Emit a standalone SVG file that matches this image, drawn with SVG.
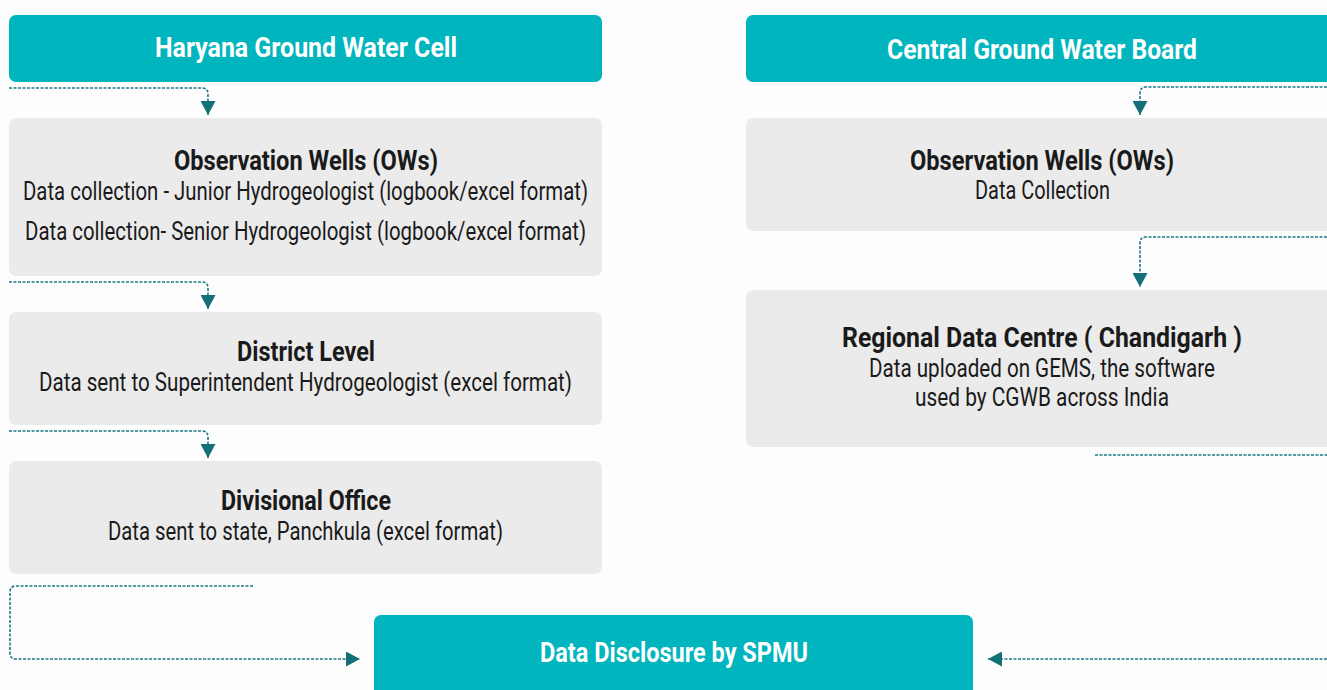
<svg xmlns="http://www.w3.org/2000/svg" width="1327" height="690" viewBox="0 0 1327 690">
<defs>
<style>
.hdr{fill:#00B5BD}
.box{fill:#EBEBEB}
.t{font-family:Roboto,"Liberation Sans",sans-serif;text-anchor:middle;fill:#1a1a1a}
.b{font-weight:bold;font-size:27px}
.r{font-size:25px}
.w{fill:#ffffff;font-weight:bold;font-size:27px}
.c{fill:none;stroke:#1d7a84;stroke-width:1.6;stroke-dasharray:3 1.5}
</style>
<marker id="ah" viewBox="0 0 10 10" refX="10" refY="5" markerWidth="14" markerHeight="15" markerUnits="userSpaceOnUse" orient="auto" preserveAspectRatio="none">
<path d="M0,0 L10,5 L0,10 Z" fill="#137078"/>
</marker>
</defs>
<rect width="1327" height="690" fill="#fdfdfd"/>

<g id="hgwc">
<rect class="hdr" x="9" y="15" width="593" height="67" rx="7"/>
<text class="t w" x="306" y="57" textLength="302" lengthAdjust="spacingAndGlyphs">Haryana Ground Water Cell</text>
</g>
<g id="ow-left">
<rect class="box" x="9" y="118" width="593" height="158" rx="7"/>
<text class="t b" x="306" y="170" textLength="264" lengthAdjust="spacingAndGlyphs">Observation Wells (OWs)</text>
<text class="t r" x="305.5" y="200" textLength="565" lengthAdjust="spacingAndGlyphs">Data collection - Junior Hydrogeologist (logbook/excel format)</text>
<text class="t r" x="305.5" y="240" textLength="561" lengthAdjust="spacingAndGlyphs">Data collection- Senior Hydrogeologist (logbook/excel format)</text>
</g>
<g id="district">
<rect class="box" x="9" y="312" width="593" height="113" rx="7"/>
<text class="t b" x="306" y="361" textLength="138" lengthAdjust="spacingAndGlyphs">District Level</text>
<text class="t r" x="305.5" y="391" textLength="533" lengthAdjust="spacingAndGlyphs">Data sent to Superintendent Hydrogeologist  (excel format)</text>
</g>
<g id="divisional">
<rect class="box" x="9" y="461" width="593" height="113" rx="7"/>
<text class="t b" x="306" y="510" textLength="170" lengthAdjust="spacingAndGlyphs">Divisional Office</text>
<text class="t r" x="305.5" y="540" textLength="395" lengthAdjust="spacingAndGlyphs">Data sent to state, Panchkula (excel format)</text>
</g>

<g id="cgwb">
<rect class="hdr" x="746" y="15" width="600" height="67" rx="7"/>
<text class="t w" x="1042" y="59" textLength="310" lengthAdjust="spacingAndGlyphs">Central Ground Water Board</text>
</g>
<g id="ow-right">
<rect class="box" x="746" y="118" width="600" height="113" rx="7"/>
<text class="t b" x="1042" y="170" textLength="264" lengthAdjust="spacingAndGlyphs">Observation Wells (OWs)</text>
<text class="t r" x="1042.5" y="199" textLength="135" lengthAdjust="spacingAndGlyphs">Data Collection</text>
</g>
<g id="rdc">
<rect class="box" x="746" y="290" width="600" height="157" rx="7"/>
<text class="t b" x="1042" y="347" textLength="400" lengthAdjust="spacingAndGlyphs">Regional Data Centre ( Chandigarh )</text>
<text class="t r" x="1042" y="377" textLength="346" lengthAdjust="spacingAndGlyphs">Data uploaded on GEMS, the software</text>
<text class="t r" x="1042" y="406" textLength="254" lengthAdjust="spacingAndGlyphs">used by CGWB across India</text>
</g>

<g id="spmu">
<rect class="hdr" x="374" y="615" width="599" height="90" rx="7"/>
<text class="t w" x="674" y="662" textLength="268" lengthAdjust="spacingAndGlyphs">Data Disclosure by SPMU</text>
</g>

<g id="connectors">
<path class="c" d="M9,88 H202 Q208,88 208,94 V115" marker-end="url(#ah)"/>
<path class="c" d="M9,282 H202 Q208,282 208,288 V309" marker-end="url(#ah)"/>
<path class="c" d="M9,431 H202 Q208,431 208,437 V458" marker-end="url(#ah)"/>
<path class="c" d="M253,586 H16 Q10,586 10,592 V653 Q10,659 16,659 H360" marker-end="url(#ah)"/>
<path class="c" d="M1327,659 H988" marker-end="url(#ah)"/>
<path class="c" d="M1327,87 H1146 Q1140,87 1140,93 V115" marker-end="url(#ah)"/>
<path class="c" d="M1327,237 H1146 Q1140,237 1140,243 V287" marker-end="url(#ah)"/>
<path class="c" d="M1095,455 H1327"/>
</g>
</svg>
